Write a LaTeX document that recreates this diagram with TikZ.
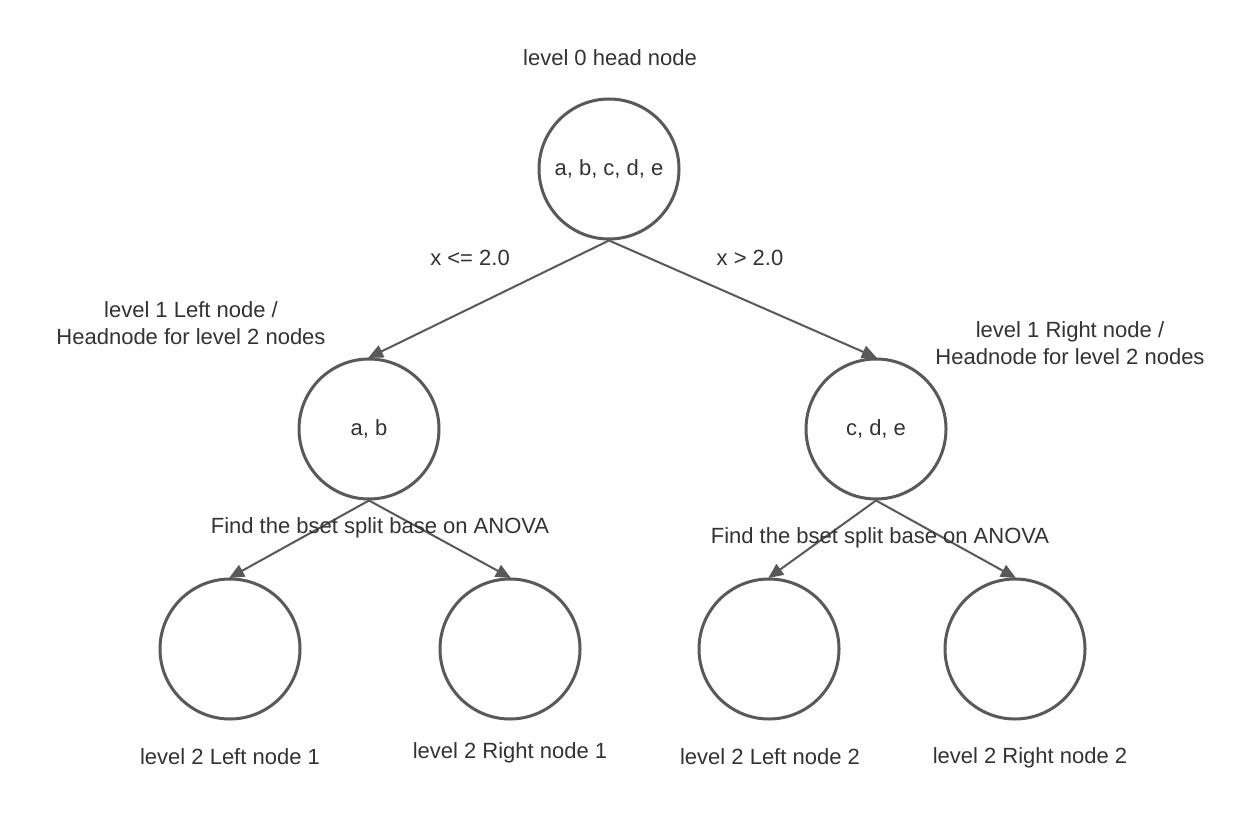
\documentclass[tikz,border=0pt]{standalone}
\usepackage{fontspec}
\setmainfont{Liberation Sans}
\usetikzlibrary{arrows.meta}
\definecolor{txt}{HTML}{333333}
\definecolor{ln}{HTML}{595959}
\begin{document}
\begin{tikzpicture}[x=1pt,y=-1pt,
  treenode/.style={circle,draw=ln,line width=3pt,minimum size=140pt,inner sep=0pt,text=txt,font=\fontsize{22}{27}\selectfont},
  lbl/.style={text=txt,font=\fontsize{22}{27}\selectfont,align=center,inner sep=0pt},
  conn/.style={draw=ln,line width=2pt,-{Triangle[length=15pt,width=13pt]},shorten >=-1pt}]
\useasboundingbox[fill=white] (0,0) rectangle (1260,832);
\node[treenode] (h) at (609,169) {a, b, c, d, e};
\node[treenode] (l) at (369,429) {a, b};
\node[treenode] (r) at (876,429) {c, d, e};
\node[treenode] (ll) at (230,649) {};
\node[treenode] (lr) at (510,649) {};
\node[treenode] (rl) at (769,649) {};
\node[treenode] (rr) at (1015,649) {};
\draw[conn] (h.south) -- (l.north);
\draw[conn] (h.south) -- (r.north);
\draw[conn] (l.south) -- (ll.north);
\draw[conn] (l.south) -- (lr.north);
\draw[conn] (r.south) -- (rl.north);
\draw[conn] (r.south) -- (rr.north);
\node[lbl] (t0) at (610,58) {level 0 head node};
\node[lbl] (c1) at (470,258) {x <= 2.0};
\node[lbl] (c2) at (750,258) {x > 2.0};
\node[lbl] (t1l) at (191,323) {level 1 Left node /\\Headnode for level 2 nodes};
\node[lbl] (t1r) at (1070,343) {level 1 Right node /\\Headnode for level 2 nodes};
\node[lbl] (fl) at (380,528) {Find the bset split base on ANOVA};
\node[lbl] (fr) at (880,538) {Find the bset split base on ANOVA};
\node[lbl] (b1) at (230,757) {level 2 Left node 1};
\node[lbl] (b2) at (510,753) {level 2 Right node 1};
\node[lbl] (b3) at (770,757) {level 2 Left node 2};
\node[lbl] (b4) at (1030,758) {level 2 Right node 2};
\end{tikzpicture}
\end{document}
